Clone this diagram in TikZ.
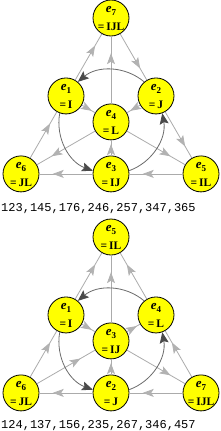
\documentclass[tikz,border=0pt]{standalone}
\usepackage{fontspec}
\setmainfont{Liberation Serif}
\setmonofont{Liberation Mono}
\usetikzlibrary{arrows.meta,decorations.markings}
\definecolor{lgray}{HTML}{ABABAB}
\definecolor{lgtip}{HTML}{B2B2B2}
\definecolor{arcgray}{HTML}{6A6A6A}
\definecolor{arcdark}{HTML}{4A4A4A}
\definecolor{nodeyellow}{HTML}{FFFF00}
\newcommand\fanolab[2]{\smash{\makebox[0pt]{\raisebox{5.5pt}{\makebox[0pt]{\fontsize{13}{13}\selectfont\textbf{\textit{e}}\raisebox{-3pt}{\fontsize{9}{9}\selectfont\textbf{#1}}}}}\makebox[0pt]{\raisebox{-12.5pt}{\makebox[0pt]{\fontsize{11.5}{11.5}\selectfont\textbf{=\,#2}}}}}}
\begin{document}
\begin{tikzpicture}[x=1pt,y=1pt,
  enode/.style={circle,draw=black,line width=0.8pt,fill=nodeyellow,minimum size=36pt,inner sep=0pt},
  gline/.style={draw=lgray,line width=0.8pt,postaction={decorate},
    decoration={markings,mark=at position 0.75 with {\arrow{Stealth[length=11pt,width=8pt,inset=2.5pt,color=lgtip]}}}},
  arcline/.style={draw=arcgray,line width=0.8pt,-{Stealth[length=11pt,width=9pt,inset=2pt,color=arcdark]}},
  triples/.style={anchor=base west,inner sep=0pt,font=\fontsize{12}{12}\selectfont\ttfamily}]
\useasboundingbox (0,0) rectangle (220,-431);
% ---------- top diagram ----------
\node[enode] (a7) at (111,-18) {\fanolab{7}{IJL}};
\node[enode] (a1) at (66,-95.95) {\fanolab{1}{I}};
\node[enode] (a2) at (156,-95.95) {\fanolab{2}{J}};
\node[enode] (a4) at (111,-121.9) {\fanolab{4}{L}};
\node[enode] (a6) at (21,-173.9) {\fanolab{6}{JL}};
\node[enode] (a3) at (111,-173.9) {\fanolab{3}{IJ}};
\node[enode] (a5) at (201,-173.9) {\fanolab{5}{IL}};
\draw[gline] (a6) -- (a1);
\draw[gline] (a1) -- (a7);
\draw[gline] (a7) -- (a2);
\draw[gline] (a2) -- (a5);
\draw[gline] (a5) -- (a3);
\draw[gline] (a3) -- (a6);
\draw[gline] (a3) -- (a4);
\draw[gline] (a4) -- (a7);
\draw[gline] (a1) -- (a4);
\draw[gline] (a4) -- (a5);
\draw[gline] (a2) -- (a4);
\draw[gline] (a4) -- (a6);
\draw[arcline] (a2.130) to[out=140,in=40,distance=25.3pt] (a1.50);
\draw[arcline] (a1.250) to[out=260,in=160,distance=25.3pt] (a3.170);
\draw[arcline] (a3.10) to[out=20,in=280,distance=25.3pt] (a2.290);
\node[triples] (t1) at (1,-211) {123,145,176,246,257,347,365};
% ---------- bottom diagram ----------
\node[enode] (b5) at (111,-237) {\fanolab{5}{IL}};
\node[enode] (b1) at (66,-314.95) {\fanolab{1}{I}};
\node[enode] (b4) at (156,-314.95) {\fanolab{4}{L}};
\node[enode] (b3) at (111,-340.9) {\fanolab{3}{IJ}};
\node[enode] (b6) at (21,-392.9) {\fanolab{6}{JL}};
\node[enode] (b2) at (111,-392.9) {\fanolab{2}{J}};
\node[enode] (b7) at (201,-392.9) {\fanolab{7}{IJL}};
\draw[gline] (b6) -- (b1);
\draw[gline] (b1) -- (b5);
\draw[gline] (b4) -- (b5);
\draw[gline] (b7) -- (b4);
\draw[gline] (b7) -- (b2);
\draw[gline] (b2) -- (b6);
\draw[gline] (b2) -- (b3);
\draw[gline] (b3) -- (b5);
\draw[gline] (b1) -- (b3);
\draw[gline] (b3) -- (b7);
\draw[gline] (b6) -- (b3);
\draw[gline] (b3) -- (b4);
\draw[arcline] (b4.130) to[out=140,in=40,distance=25.3pt] (b1.50);
\draw[arcline] (b1.250) to[out=260,in=160,distance=25.3pt] (b2.170);
\draw[arcline] (b2.10) to[out=20,in=280,distance=25.3pt] (b4.290);
\node[triples] (t2) at (1,-428.3) {124,137,156,235,267,346,457};
\end{tikzpicture}
\end{document}
